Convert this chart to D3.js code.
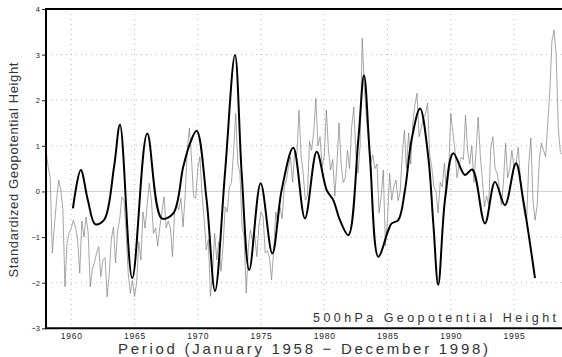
<!DOCTYPE html>
<html><head><meta charset="utf-8">
<script src="https://cdn.jsdelivr.net/npm/d3@7"></script>
<style>
html,body{margin:0;padding:0;background:#fff;overflow:hidden;}
svg{display:block;}
text{font-family:"Liberation Sans",Arial,sans-serif;}
</style></head>
<body>
<svg id="chart" width="562" height="357"></svg>
<script>
// Thin series: bi-monthly samples (Jan 1958 - Dec 1998), standardized anomaly
const thinStart = 1958;
const thinStep = 1/6;
const thinValues = [
  0.9, 0.55, 0.3, -1.35, -0.75, -0.2,        // 1958
  0.25, 0.03, -0.38, -2.09, -1.13, -0.9,     // 1959
  -0.8, -0.63, -0.78, -1.05, -1.79, -0.65,   // 1960
  -1.0, -0.56, -0.9, -2.09, -1.7, -1.55,     // 1961
  -1.35, -1.21, -1.87, -1.5, -1.45, -2.31,   // 1962
  -1.8, -1.05, -0.78, -1.57, -0.85, -0.6,    // 1963
  -0.12, -0.2, -0.9, -1.8, -2.23, -1.95,     // 1964
  -2.3, -2.0, -1.1, -1.5, -0.45, -0.8,       // 1965
  -0.3, 0.18, -0.2, -0.92, -0.8, -1.2,       // 1966
  -0.78, -0.45, -0.12, -0.8, -0.65, -0.8,    // 1967
  -1.43, -0.45, -0.25, -0.4, -0.15, -0.78,   // 1968
  -0.1, 0.9, 1.39, 0.75, -0.12, -0.15,       // 1969
  0.5, 0.76, -0.05, -0.6, -1.28, -1.05,      // 1970
  -2.3, -1.8, -0.92, -1.5, -1.1, -1.75,      // 1971
  -1.2, -0.34, -0.45, 0.1, 0.2, 0.9,         // 1972
  1.71, 0.6, 0.4, -0.78, -1.0, -2.23,        // 1973
  -1.2, -0.85, -1.1, -0.95, -1.43, -0.75,    // 1974
  -0.45, -0.55, -1.35, -1.3, -1.45, -1.94,   // 1975
  -1.3, -0.45, -0.7, -0.35, -0.6, 0.1,       // 1976
  0.25, 0.53, 0.75, 0.2, 0.9, 0.8,           // 1977
  1.78, 0.8, 0.4, -0.19, -0.1, 1.1,          // 1978
  0.9, 1.3, 2.04, 1.0, 1.2, 0.53,            // 1979
  0.8, 1.78, 0.9, 0.47, 0.7, -0.1,           // 1980
  0.6, 1.5, 0.6, 0.2, 0.3, 0.9,              // 1981
  0.5, 1.41, 1.85, 0.8, 0.4, 1.0,            // 1982
  3.36, 2.3, 1.6, 1.13, 0.62, 0.8,           // 1983
  0.5, 0.6, -0.47, -0.1, 0.47, -1.2,         // 1984
  -0.6, 0.4, -0.19, 0.1, 0.25, -0.2,         // 1985
  0.0, 0.8, 1.34, 0.5, 1.28, 0.6,            // 1986
  1.5, 1.9, 2.15, 1.2, 1.4, 1.6,             // 1987
  1.7, 1.94, 0.8, 0.53, 0.1, 0.0,            // 1988
  -0.47, 0.2, 0.1, 0.62, -0.05, 0.4,         // 1989
  1.71, 1.3, 0.9, 0.3, 0.6, 0.75,            // 1990
  0.7, 1.67, 0.9, 0.6, 1.0, 0.2,             // 1991
  0.9, 1.63, 0.8, 0.25, -0.34, -0.1,         // 1992
  -0.3, 0.97, 1.2, 0.5, 0.4, 0.1,            // 1993
  -0.3, 0.2, 1.06, 0.3, 0.5, 0.9,            // 1994
  0.5, 0.6, 0.97, 0.3, -0.2, -0.5,           // 1995
  -0.63, 0.6, 1.17, -0.2, -0.63, -0.3,       // 1996
  0.7, 1.06, 0.9, 0.76, 1.5, 2.2,            // 1997
  3.3, 3.54, 3.0, 1.4, 0.85, 0.8             // 1998
];

// Thick (low-pass filtered) series
const thickYears = [
  1960.13, 1960.75, 1961.3, 1961.9, 1962.6, 1963.38, 1963.85, 1964.82, 1966.0,
  1967.15, 1968.06, 1968.85, 1969.38, 1969.91, 1970.7, 1971.36, 1972.15, 1972.94,
  1973.47, 1974.07, 1974.97, 1975.89, 1976.63, 1977.55, 1978.47, 1979.4, 1980.19,
  1980.71, 1981.24, 1981.9, 1982.69, 1983.14, 1983.61, 1984.27, 1985.06, 1985.33,
  1985.85, 1986.38, 1986.9, 1987.57, 1988.22, 1988.62, 1989.01, 1989.54, 1990.2,
  1991.12, 1991.7, 1992.7, 1993.5, 1994.28, 1995.15, 1995.73, 1996.66
];
const thickValues = [
  -0.37, 0.47, -0.18, -0.72, -0.62, 0.54, 1.46, -1.9, 1.27,
  -0.59, -0.48, 0.54, 1.05, 1.33, -0.19, -2.18, 0.4, 2.99,
  0.4, -1.72, 0.18, -1.36, 0.03, 0.96, -0.59, 0.87, 0.03,
  -0.19, -0.63, -0.96, 1.13, 2.55, 0.76, -1.43, -0.85, -0.7,
  -0.63, 0.03, 1.13, 1.82, 0.76, -0.7, -2.05, -0.19, 0.84,
  0.36, 0.48, -0.7, 0.21, -0.3, 0.62, -0.19, -1.9
];

const yTicks = [-3, -2, -1, 0, 1, 2, 3, 4];
const xTicks = [1960, 1965, 1970, 1975, 1980, 1985, 1990, 1995];
const yLabel = "Standardized Geopotential Height";
const xLabel = "Period (January 1958 \u2212 December 1998)";
const legendText = "500hPa Geopotential Height";

const svg = d3.select("#chart");
const L = 46, R = 564.6, T = 9, B = 328.3;
const x = d3.scaleLinear().domain([1958, 1999]).range([L, R]);
const y = d3.scaleLinear().domain([-3, 4]).range([B, T]);

svg.append("defs").append("clipPath").attr("id", "clip")
  .append("rect").attr("x", L).attr("y", T).attr("width", R - L).attr("height", B - T);

// grid
const grid = svg.append("g");
grid.selectAll(".hg").data(yTicks.filter(d => d !== 0 && d !== -3 && d !== 4)).enter().append("line")
  .attr("x1", L).attr("x2", R).attr("y1", d => y(d)).attr("y2", d => y(d))
  .attr("stroke", "#aaa").attr("stroke-width", 0.8).attr("stroke-dasharray", "1,4");
grid.selectAll(".vg").data(xTicks).enter().append("line")
  .attr("x1", d => x(d)).attr("x2", d => x(d)).attr("y1", T).attr("y2", B)
  .attr("stroke", "#aaa").attr("stroke-width", 0.8).attr("stroke-dasharray", "1,4");
grid.append("line").attr("x1", L).attr("x2", R).attr("y1", y(0)).attr("y2", y(0))
  .attr("stroke", "#cfcfcf").attr("stroke-width", 1);

const plot = svg.append("g").attr("clip-path", "url(#clip)");
const thinData = thinValues.map((v, i) => [thinStart + i * thinStep, v]);
plot.append("path").datum(thinData)
  .attr("fill", "none").attr("stroke", "#808080").attr("stroke-width", 0.7)
  .attr("d", d3.line().x(d => x(d[0])).y(d => y(d[1])));

const thickData = thickYears.map((t, i) => [t, thickValues[i]]);
plot.append("path").datum(thickData)
  .attr("fill", "none").attr("stroke", "#000").attr("stroke-width", 2)
  .attr("d", d3.line().curve(d3.curveCatmullRom.alpha(0.5)).x(d => x(d[0])).y(d => y(d[1])));

// axes
const yAxis = d3.axisLeft(y).tickValues(yTicks).tickSize(4).tickPadding(2)
  .tickFormat(d => d < 0 ? "\u2212" + Math.abs(d) : String(d));
const gy = svg.append("g").attr("transform", `translate(${L},0)`).call(yAxis);
gy.select(".domain").remove();
gy.selectAll("text").attr("font-size", 7.5).attr("fill", "#222");
gy.selectAll("line").attr("stroke", "#222");

const xAxis = d3.axisBottom(x).tickValues(xTicks).tickSize(0).tickPadding(5).tickFormat(d3.format("d"));
const gx = svg.append("g").attr("transform", `translate(0,${B})`).call(xAxis);
gx.select(".domain").remove();
gx.selectAll("text").attr("font-size", 8.5).attr("fill", "#222").attr("letter-spacing", 0.8);

// frame
svg.append("line").attr("x1", L).attr("x2", L).attr("y1", T).attr("y2", B).attr("stroke", "#000").attr("stroke-width", 2);
svg.append("line").attr("x1", L - 1).attr("x2", R).attr("y1", B).attr("y2", B).attr("stroke", "#000").attr("stroke-width", 2);
svg.append("line").attr("x1", L - 1).attr("x2", R).attr("y1", T).attr("y2", T).attr("stroke", "#000").attr("stroke-width", 2);

// labels
svg.append("text").attr("transform", "translate(18,170) rotate(-90)")
  .attr("text-anchor", "middle").attr("font-size", 13).attr("fill", "#333")
  .attr("textLength", 215).attr("lengthAdjust", "spacing").text(yLabel);
svg.append("text").attr("x", 303).attr("y", 354)
  .attr("text-anchor", "middle").attr("font-size", 15).attr("fill", "#333")
  .attr("textLength", 370).attr("lengthAdjust", "spacing").text(xLabel);
svg.append("text").attr("x", 313).attr("y", 321.5)
  .attr("font-size", 12.5).attr("fill", "#333")
  .attr("textLength", 243).attr("lengthAdjust", "spacing").text(legendText);
</script>
</body></html>
